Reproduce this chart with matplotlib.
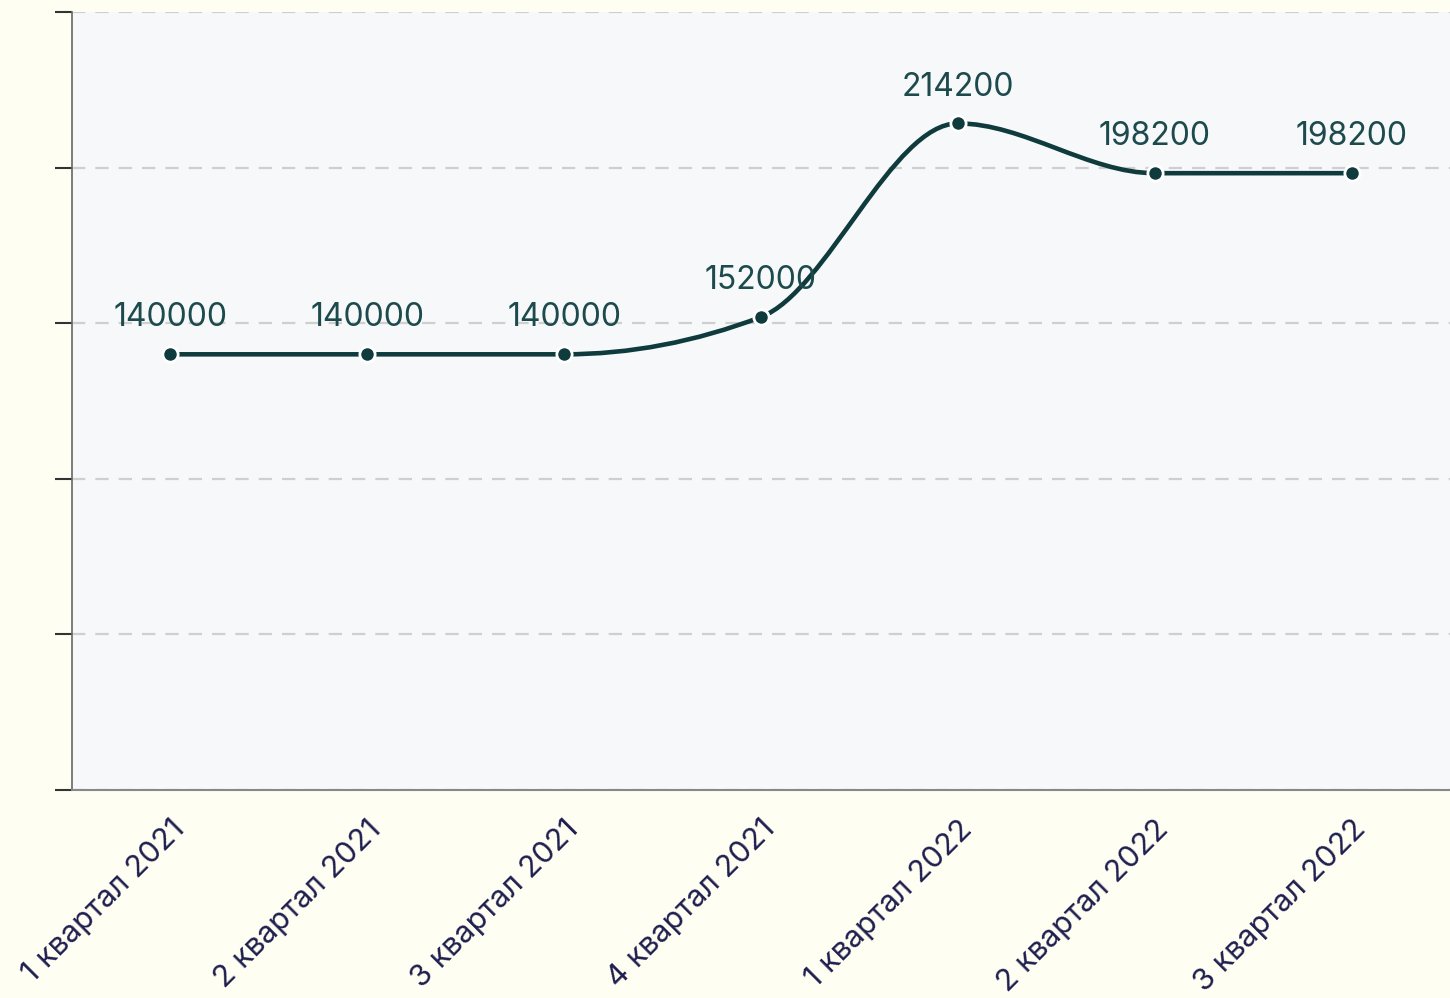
import numpy as np
import matplotlib
matplotlib.use("Agg")
from matplotlib import pyplot as plt
from matplotlib.path import Path
from matplotlib.patches import PathPatch

plt.rcParams['font.family'] = ['Inter', 'DejaVu Sans']

quarters = ["1 квартал 2021", "2 квартал 2021", "3 квартал 2021", "4 квартал 2021",
            "1 квартал 2022", "2 квартал 2022", "3 квартал 2022"]
values = [140000, 140000, 140000, 152000, 214200, 198200, 198200]

line_col = "#0f3b3d"
x = np.arange(len(values), dtype=float)
y = np.array(values, dtype=float)


# monotone cubic (like d3 curveMonotoneX) -> bezier path
def tangents(x, y):
    n = len(x)
    h = np.diff(x)
    s = np.diff(y) / h
    t = np.zeros(n)
    for i in range(1, n - 1):
        p = (s[i - 1] * h[i] + s[i] * h[i - 1]) / (h[i - 1] + h[i])
        t[i] = (np.sign(s[i - 1]) + np.sign(s[i])) * min(abs(s[i - 1]), abs(s[i]), 0.5 * abs(p))
    t[0] = (3 * s[0] - t[1]) / 2
    t[-1] = (3 * s[-1] - t[-2]) / 2
    return t


t = tangents(x, y)
verts = [(x[0], y[0])]
codes = [Path.MOVETO]
for i in range(len(x) - 1):
    dx = (x[i + 1] - x[i]) / 3
    verts += [(x[i] + dx, y[i] + dx * t[i]), (x[i + 1] - dx, y[i + 1] - dx * t[i + 1]), (x[i + 1], y[i + 1])]
    codes += [Path.CURVE4] * 3

fig = plt.figure(figsize=(14.5, 9.98), dpi=100, facecolor="#fffef3")
ax = fig.add_axes([0.0497, 0.2084, 0.9503, 0.7796])
ax.set_facecolor("#f7f8fa")

ax.add_patch(PathPatch(Path(verts, codes), facecolor="none", edgecolor=line_col, lw=3.3, zorder=3))
ax.plot(x, y, "o", color=line_col, markersize=11, markeredgecolor="white", markeredgewidth=2.0, zorder=4)

for xi, v in zip(x, values):
    ax.annotate(str(v), (xi, v), xytext=(0, 15), textcoords="offset points",
                ha="center", va="bottom", fontsize=23, color="#1d4a4c", zorder=5)

ax.set_xlim(-0.5, 6.5)
ax.set_ylim(0, 250000)
ax.set_yticks(np.arange(0, 250001, 50000))
ax.set_yticklabels([])
ax.set_xticks(x)
ax.set_xticklabels(quarters, rotation=45, ha="right", rotation_mode="anchor",
                   fontsize=22, color="#1f1f4f")
ax.tick_params(axis="x", length=0, pad=18)
ax.tick_params(axis="y", length=12, width=1.5, color="#333333")

ax.grid(axis="y", color="#cfcfcf", linestyle=(0, (6, 4.5)), linewidth=1.6, zorder=1)
ax.set_axisbelow(True)
for side in ["top", "right"]:
    ax.spines[side].set_visible(False)
ax.spines["left"].set_color("#666666")
ax.spines["bottom"].set_color("#888888")
ax.spines["left"].set_linewidth(1.2)
ax.spines["bottom"].set_linewidth(1.5)

fig.savefig("out.png", dpi=100, facecolor=fig.get_facecolor())
